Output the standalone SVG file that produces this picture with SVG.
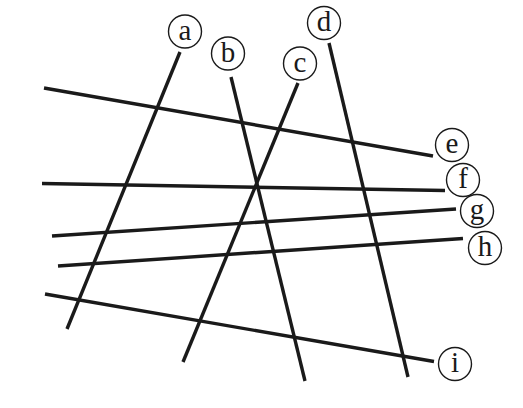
<svg xmlns="http://www.w3.org/2000/svg" width="523" height="408" viewBox="0 0 523 408">
<style>
.ln{stroke:#1a1a1a;stroke-width:3.4;stroke-linecap:butt;fill:none}
.c{fill:#fff;stroke:#1a1a1a;stroke-width:1.4}
.t{font-family:"Liberation Serif","DejaVu Serif",serif;font-size:29px;fill:#1a1a1a;text-anchor:middle;dominant-baseline:central}
</style>
<rect width="523" height="408" fill="#fff"/>
<g id="connectors">
<line class="ln" x1="180" y1="52" x2="67" y2="329"/>
<line class="ln" x1="231" y1="77" x2="305" y2="381"/>
<line class="ln" x1="298" y1="83" x2="183" y2="362"/>
<line class="ln" x1="329" y1="43" x2="408" y2="377"/>
<line class="ln" x1="44" y1="88" x2="433" y2="156"/>
<line class="ln" x1="42" y1="183.5" x2="445" y2="190.5"/>
<line class="ln" x1="52" y1="236" x2="456" y2="209"/>
<line class="ln" x1="58" y1="266" x2="463" y2="238.5"/>
<line class="ln" x1="45" y1="294" x2="434" y2="361.5"/>
</g>
<g id="a"><circle class="c" cx="185" cy="31.5" r="16.5"/><text class="t" x="185" y="29.5">a</text></g>
<g id="b"><circle class="c" cx="228" cy="53.5" r="16.5"/><text class="t" x="228" y="51.5">b</text></g>
<g id="c"><circle class="c" cx="300" cy="63.5" r="16.5"/><text class="t" x="300" y="61.5">c</text></g>
<g id="d"><circle class="c" cx="324" cy="23" r="16.5"/><text class="t" x="324" y="21">d</text></g>
<g id="e"><circle class="c" cx="452" cy="145" r="16.5"/><text class="t" x="452" y="143">e</text></g>
<g id="f"><circle class="c" cx="463" cy="180" r="16.5"/><text class="t" x="463" y="178">f</text></g>
<g id="g"><circle class="c" cx="477" cy="211" r="16.5"/><text class="t" x="477" y="209">g</text></g>
<g id="h"><circle class="c" cx="485" cy="248" r="16.5"/><text class="t" x="485" y="246">h</text></g>
<g id="i"><circle class="c" cx="455" cy="364" r="16.5"/><text class="t" x="455" y="362">i</text></g>
</svg>
